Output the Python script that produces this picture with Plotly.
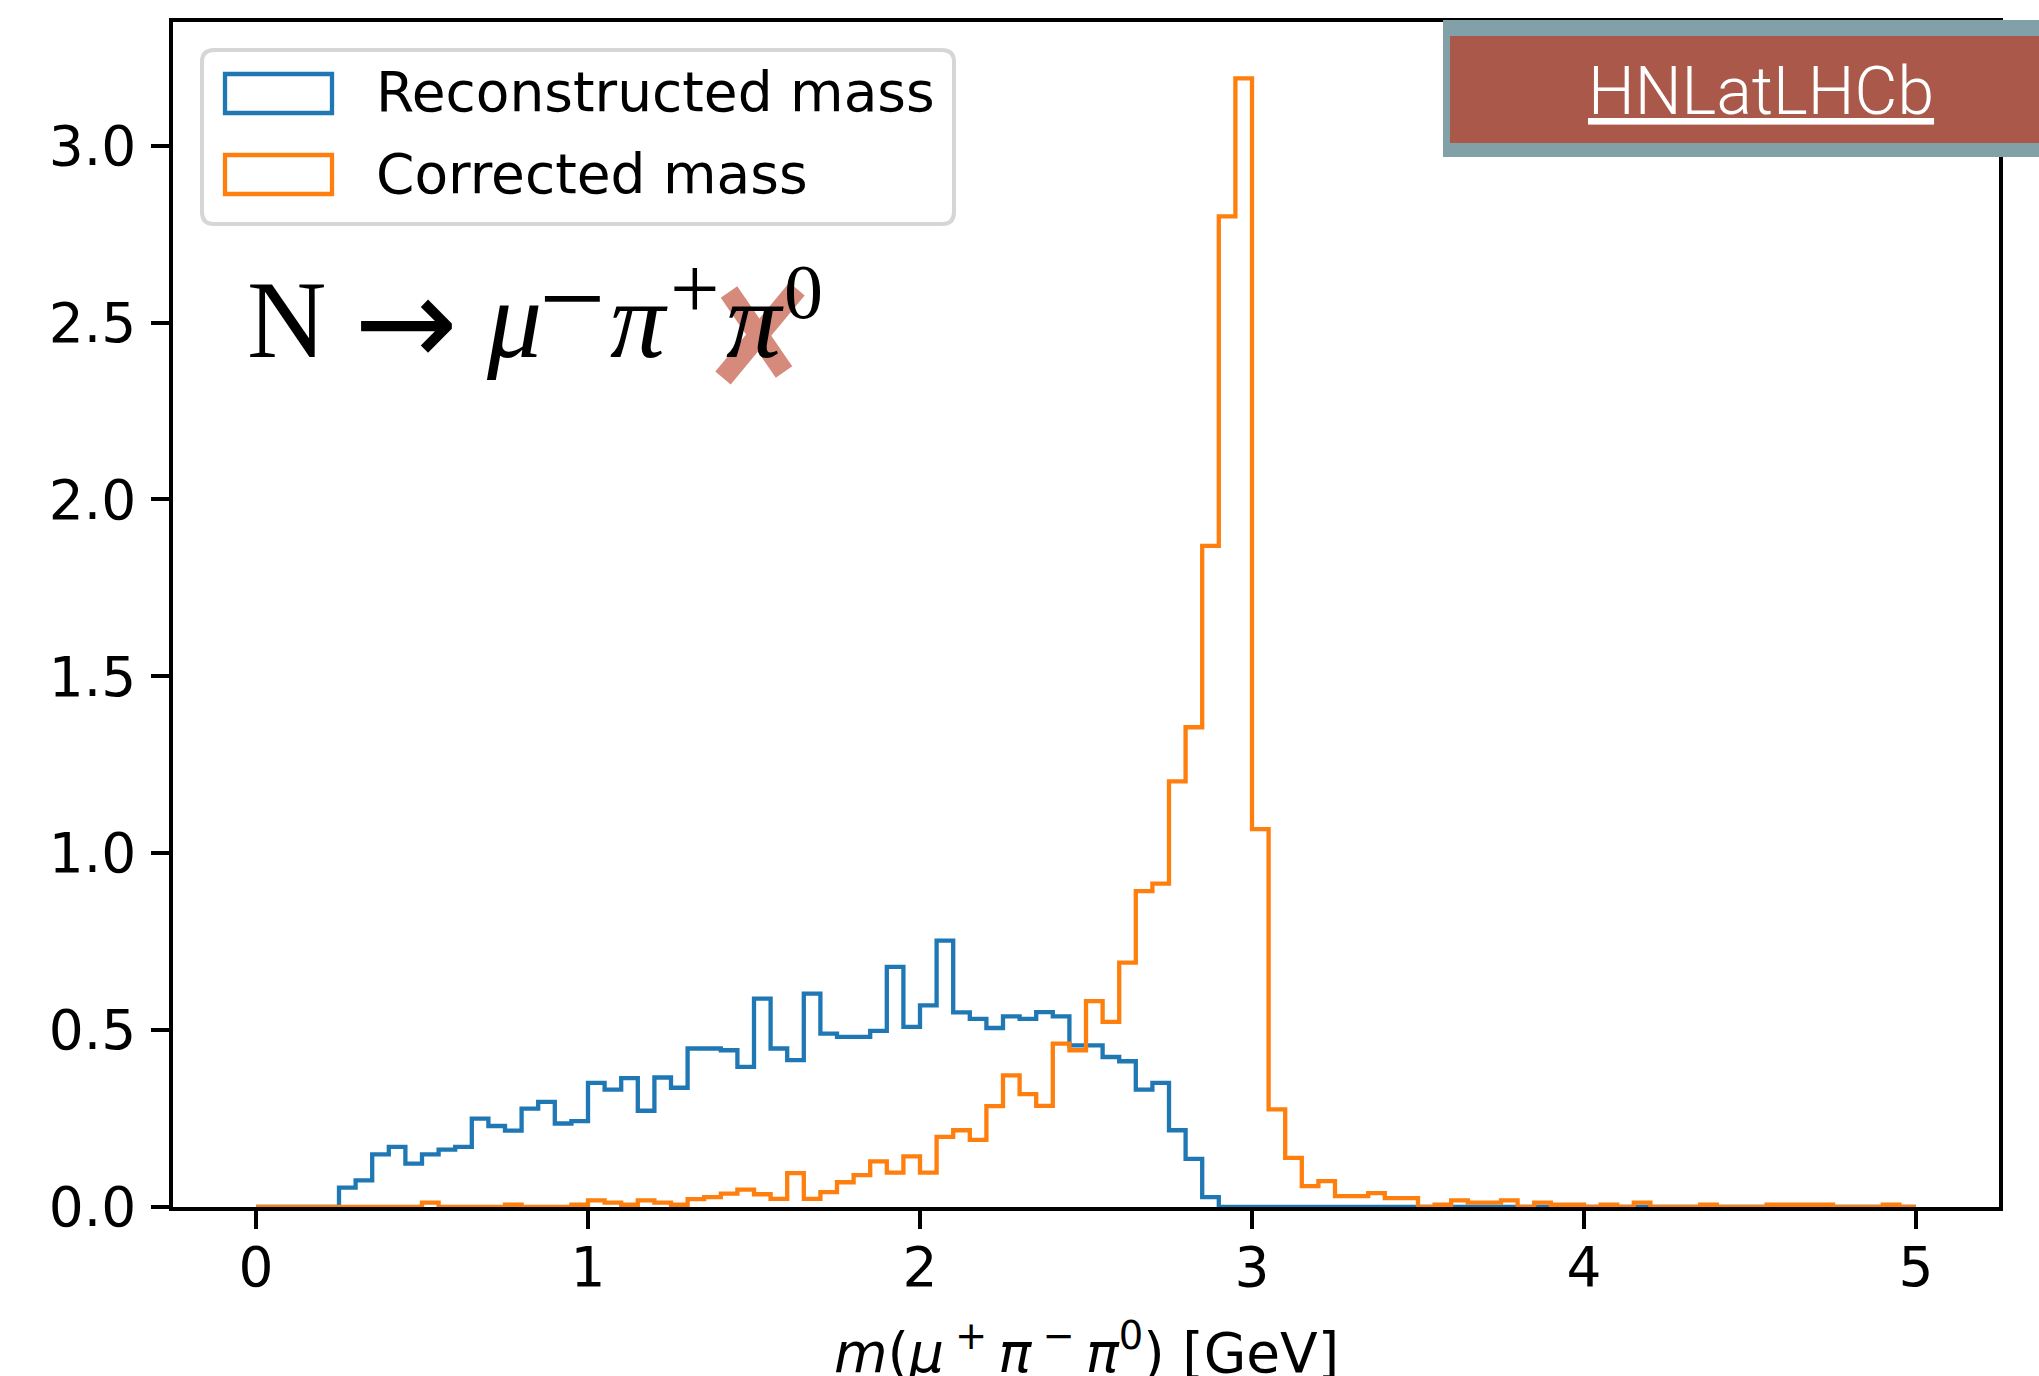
import numpy as np
import plotly.graph_objects as go

# ---------------- data ----------------
BIN_START = 0.0
BIN_WIDTH = 0.05
N_BINS = 100

reconstructed_mass = [
    0, 0, 0, 0, 0, 0.055, 0.075, 0.149, 0.170, 0.1225,
    0.149, 0.162, 0.170, 0.250, 0.229, 0.216, 0.278, 0.297, 0.236, 0.243,
    0.351, 0.332, 0.364, 0.272, 0.366, 0.337, 0.448, 0.448, 0.443, 0.396,
    0.589, 0.448, 0.415, 0.603, 0.490, 0.481, 0.481, 0.498, 0.679, 0.509,
    0.570, 0.753, 0.550, 0.532, 0.506, 0.539, 0.532, 0.551, 0.539, 0.457,
    0.457, 0.424, 0.412, 0.332, 0.351, 0.217, 0.136, 0.028, 0, 0,
    0, 0, 0, 0, 0, 0, 0, 0, 0, 0,
    0, 0, 0, 0, 0, 0, 0, 0, 0, 0,
    0, 0, 0, 0, 0, 0, 0, 0, 0, 0,
    0, 0, 0, 0, 0, 0, 0, 0, 0, 0,
]

corrected_mass = [
    0, 0, 0, 0, 0, 0, 0, 0, 0, 0,
    0.0126, 0, 0, 0, 0, 0.0063, 0, 0, 0, 0.0063,
    0.019, 0.0126, 0.0063, 0.019, 0.0126, 0.0063, 0.022, 0.028, 0.038, 0.049,
    0.036, 0.023, 0.096, 0.023, 0.042, 0.070, 0.090, 0.129, 0.097, 0.143,
    0.097, 0.198, 0.217, 0.190, 0.285, 0.372, 0.319, 0.286, 0.462, 0.443,
    0.582, 0.523, 0.691, 0.893, 0.914, 1.203, 1.356, 1.869, 2.800, 3.190,
    1.068, 0.276, 0.139, 0.059, 0.073, 0.031, 0.031, 0.039, 0.025, 0.025,
    0, 0.0063, 0.019, 0.0126, 0.0126, 0.019, 0, 0.0126, 0.0063, 0.0063,
    0, 0.0063, 0, 0.0126, 0, 0, 0, 0.0063, 0, 0,
    0, 0.0063, 0.0063, 0.0063, 0.0063, 0, 0, 0, 0.0063, 0,
]

series_names = ["Reconstructed mass", "Corrected mass"]
x_ticks = [0, 1, 2, 3, 4, 5]
y_ticks = [0.0, 0.5, 1.0, 1.5, 2.0, 2.5, 3.0]

# ---------------- figure geometry (pixels) ----------------
W, H = 2039, 1376
L, R, T, B = 173, 1999, 22, 1207  # plot area in pixels

def px(x):
    return (x - L) / (R - L)

def py(y):
    return (B - y) / (B - T)

edges = BIN_START + BIN_WIDTH * np.arange(N_BINS + 1)

BLUE = "#1f77b4"
ORANGE = "#ff7f0e"

fig = go.Figure()
for vals, name, col in [(reconstructed_mass, series_names[0], BLUE),
                        (corrected_mass, series_names[1], ORANGE)]:
    fig.add_trace(go.Scatter(
        x=edges, y=list(vals) + [vals[-1]],
        mode="lines", line=dict(color=col, width=4.3, shape="hv"),
        name=name, showlegend=False, hoverinfo="skip",
    ))

ymax = max(max(reconstructed_mass), max(corrected_mass)) * 1.05
xmin, xmax = edges[0], edges[-1]
xpad = 0.05 * (xmax - xmin)

axis_common = dict(
    showline=True, linecolor="black", linewidth=3.5, mirror=True,
    ticks="outside", ticklen=18, tickwidth=3.5, tickcolor="black",
    showgrid=False, zeroline=False,
    tickfont=dict(family="DejaVu Sans", size=55, color="black"),
)

fig.update_xaxes(range=[xmin - xpad, xmax + xpad], tickvals=x_ticks,
                 ticktext=[str(v) for v in x_ticks], ticklabelstandoff=-9,
                 **axis_common)
fig.update_yaxes(range=[0, ymax], tickvals=y_ticks,
                 ticktext=[f"{v:.1f}" for v in y_ticks], ticklabelstandoff=4,
                 **axis_common)

shapes = []
annotations = []

# ---------------- legend (matplotlib style) ----------------
def rounded_rect(x0, y0, x1, y1, r):
    pts = [
        f"M{px(x0 + r)},{py(y0)}",
        f"L{px(x1 - r)},{py(y0)}",
        f"Q{px(x1)},{py(y0)} {px(x1)},{py(y0 + r)}",
        f"L{px(x1)},{py(y1 - r)}",
        f"Q{px(x1)},{py(y1)} {px(x1 - r)},{py(y1)}",
        f"L{px(x0 + r)},{py(y1)}",
        f"Q{px(x0)},{py(y1)} {px(x0)},{py(y1 - r)}",
        f"L{px(x0)},{py(y0 + r)}",
        f"Q{px(x0)},{py(y0)} {px(x0 + r)},{py(y0)}",
        "Z",
    ]
    return " ".join(pts)

shapes.append(dict(type="path", xref="paper", yref="paper",
                   path=rounded_rect(202, 50, 954, 224, 12),
                   line=dict(color="#d6d6d6", width=4),
                   fillcolor="rgba(255,255,255,0.8)", layer="above"))

legend_rows = [(series_names[0], BLUE, 74, 113), (series_names[1], ORANGE, 155, 194)]
for name, col, y0, y1 in legend_rows:
    shapes.append(dict(type="rect", xref="paper", yref="paper",
                       x0=px(225), x1=px(332), y0=py(y0), y1=py(y1),
                       line=dict(color=col, width=4.3),
                       fillcolor="rgba(0,0,0,0)", layer="above"))
    annotations.append(dict(xref="paper", yref="paper", x=px(374), y=py((y0 + y1) / 2 - 1),
                            xanchor="left", yanchor="middle", showarrow=False,
                            text=name,
                            font=dict(family="DejaVu Sans", size=55, color="black")))

# ---------------- decay formula with crossed-out pi0 ----------------
XCOL = "#D58A7B"
shapes.append(dict(type="line", xref="paper", yref="paper",
                   x0=px(729), y0=py(292), x1=px(784), y1=py(372),
                   line=dict(color=XCOL, width=20), layer="above"))
shapes.append(dict(type="line", xref="paper", yref="paper",
                   x0=px(797), y0=py(289), x1=px(723), y1=py(378),
                   line=dict(color=XCOL, width=20), layer="above"))

SERIF = "Liberation Serif"
# (text, font family, size, left x [px], vertical centre of text box [px])
formula_parts = [
    ("N", SERIF, 110, 246, 320),
    ("→", "DejaVu Sans", 124, 353, 322),
    ("<i>μ</i>", SERIF, 110, 485, 320),
    ("−", SERIF, 118, 538, 298),
    ("<i>π</i>", SERIF, 110, 609, 320),
    ("+", SERIF, 88, 669, 288),
    ("<i>π</i>", SERIF, 110, 725, 320),
    ("0", SERIF, 78, 783, 291),
]
for txt, fam, size, xl, yc in formula_parts:
    annotations.append(dict(xref="paper", yref="paper", x=px(xl), y=py(yc),
                            xanchor="left", yanchor="middle", showarrow=False,
                            text=txt, borderpad=0,
                            font=dict(family=fam, size=size, color="black")))

# ---------------- x-axis label ----------------
annotations.append(dict(xref="paper", yref="paper", x=0.5, y=py(1349),
                        xanchor="center", yanchor="middle", showarrow=False,
                        text="<i>m</i>(<i>μ</i>\u2009<sup>+</sup>\u2009<i>π</i>\u2009<sup>−</sup>\u2009<i>π</i><sup>0</sup>) [GeV]",
                        font=dict(family="DejaVu Sans", size=55, color="black")))

# ---------------- HNLatLHCb badge ----------------
shapes.append(dict(type="rect", xref="paper", yref="paper",
                   x0=px(1443), x1=px(W + 5), y0=py(20), y1=py(157),
                   line=dict(width=0), fillcolor="#82A0A8", layer="above"))
shapes.append(dict(type="rect", xref="paper", yref="paper",
                   x0=px(1450), x1=px(W + 5), y0=py(36), y1=py(143),
                   line=dict(width=0), fillcolor="#A9584A", layer="above"))
annotations.append(dict(xref="paper", yref="paper", x=px(1761), y=py(92),
                        xanchor="center", yanchor="middle", showarrow=False,
                        text="<u>HNLatLHCb</u>",
                        font=dict(family="Roboto", size=66, color="white", weight=300)))

fig.update_layout(
    width=W, height=H, autosize=False,
    margin=dict(l=L, r=W - R, t=T, b=H - B, pad=0),
    paper_bgcolor="white", plot_bgcolor="white",
    shapes=shapes, annotations=annotations,
    showlegend=False,
)

fig.write_html("out.html")
